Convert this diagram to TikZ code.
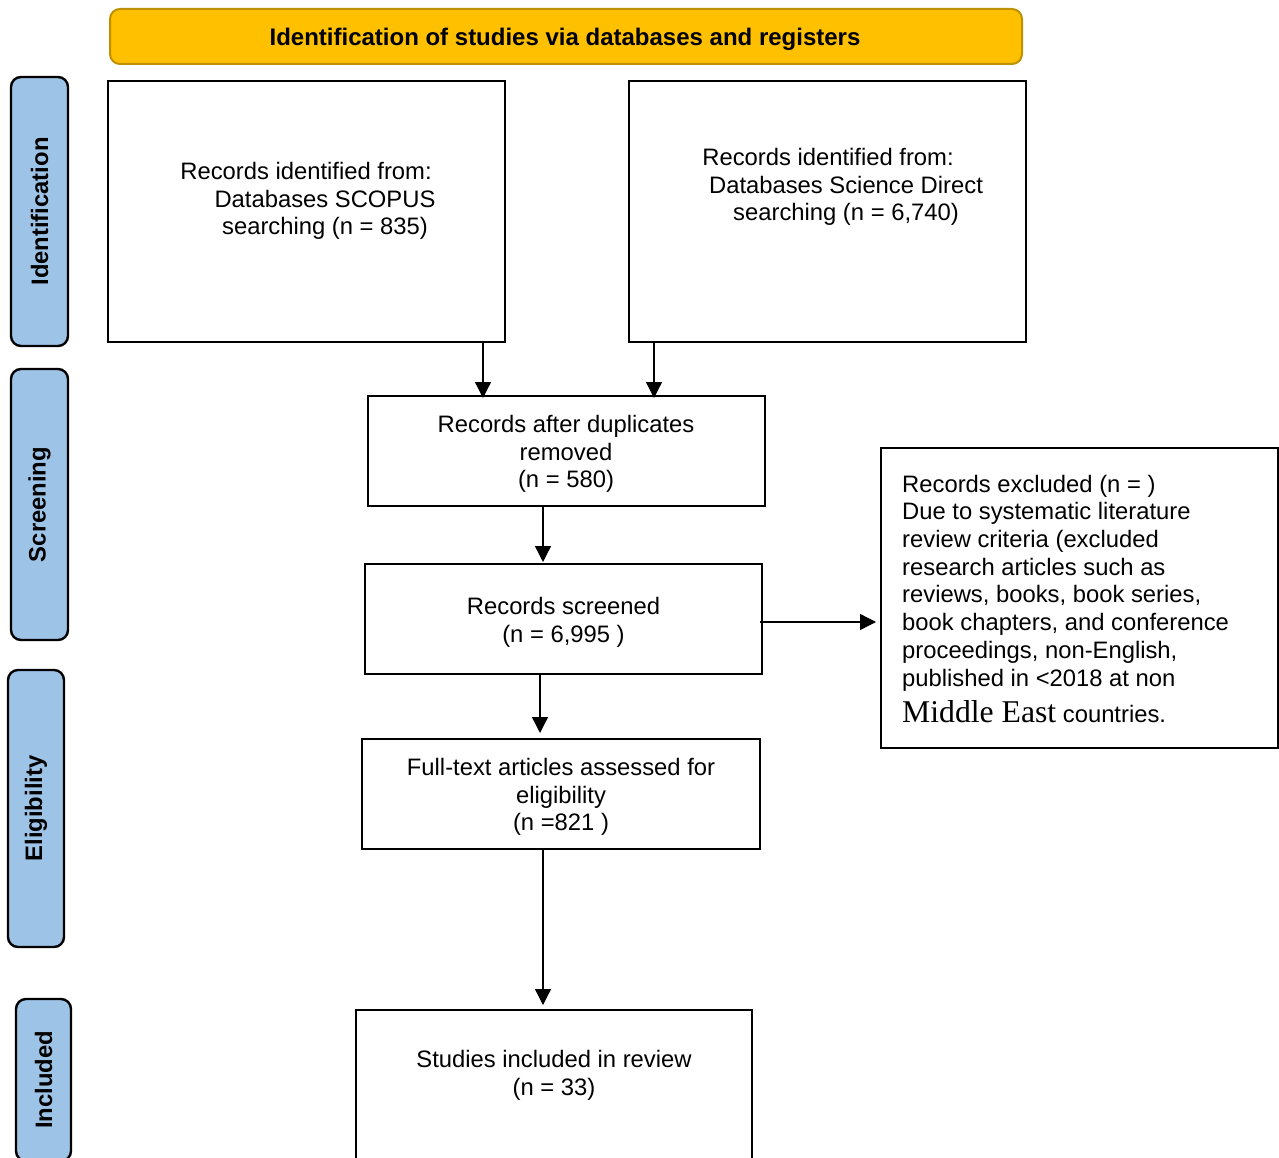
\documentclass[tikz,border=0pt]{standalone}
\usepackage{fontspec}
\setmainfont{Liberation Sans}
\newfontfamily\tms{Liberation Serif}
\usetikzlibrary{arrows.meta}
\definecolor{hdrfill}{HTML}{FFC000}
\definecolor{hdrline}{HTML}{BF9000}
\definecolor{sidefill}{HTML}{9DC3E6}
\tikzset{
  box/.style={draw=black, line width=2pt, fill=white, inner sep=0pt},
  hdr/.style={draw=hdrline, line width=2pt, fill=hdrfill, rounded corners=10pt, inner sep=0pt},
  side/.style={draw=black, line width=2.4pt, fill=sidefill, rounded corners=10pt, inner sep=0pt,
    rotate=90, font=\fontsize{23.8}{27}\selectfont\bfseries},
  txt/.style={inner sep=0pt, align=center, font=\fontsize{23.8}{27.7}\selectfont},
  hdrtxt/.style={inner sep=0pt, font=\fontsize{24}{27}\selectfont\bfseries},
  arr/.style={line width=1.3pt, -{Triangle[length=16pt,width=16pt]}, shorten >=-3pt}
}
\begin{document}
\begin{tikzpicture}[x=1pt,y=-1pt]
\useasboundingbox (0,0) rectangle (1279,1158);

% header
\node[hdr, minimum width=912, minimum height=55] (hdr) at (566,36.5) {};
\node[hdrtxt] (hdrt) at (565,39.5) {Identification of studies via databases and registers};

% side labels
\node[side, minimum width=269, minimum height=57] (sid) at (39.5,211.5) {Identification};
\node[side, minimum width=271, minimum height=57] (sscr) at (39.5,504.5) {Screening};
\node[side, minimum width=277, minimum height=56] (selig) at (36,808.5) {Eligibility};
\node[side, minimum width=162, minimum height=55] (sinc) at (43.5,1080) {Included};

% boxes
\node[box, minimum width=397, minimum height=261] (A) at (306.5,211.5) {};
\node[box, minimum width=397, minimum height=261] (B) at (827.5,211.5) {};
\node[box, minimum width=397, minimum height=110] (C) at (566.5,451) {};
\node[box, minimum width=397, minimum height=110] (D) at (563.5,619) {};
\node[box, minimum width=398, minimum height=110] (E) at (561,794) {};
\node[box, minimum width=396, minimum height=160] (F) at (554,1090) {};
\node[box, minimum width=397, minimum height=300] (G) at (1079.5,598) {};

% texts
\node[txt] (tA) at (325,201) {Records identified from:\hspace*{38pt}\\Databases SCOPUS\\searching (n = 835)};
\node[txt] (tB) at (846,187) {Records identified from:\hspace*{36pt}\\Databases Science Direct\\searching (n = 6,740)};
\node[txt] (tC) at (566,454) {Records after duplicates\\removed\\(n = 580)};
\node[txt] (tD) at (563.5,622) {Records screened\\(n = 6,995 )};
\node[txt] (tE) at (561,797) {Full-text articles assessed for\\eligibility\\(n =821 )};
\node[txt] (tF) at (554,1075.5) {Studies included in review\\(n = 33)};
\node[txt, align=left, anchor=north west] (tG) at (902,474.7) {Records excluded (n = )\\
Due to systematic literature\\
review criteria (excluded\\
research articles such as\\
reviews, books, book series,\\
book chapters, and conference\\
proceedings, non-English,\\
published in <2018 at non\\[9pt]
{\tms\fontsize{31.7}{34}\selectfont Middle East} countries.};

% connectors
\coordinate (xa) at (483,0);
\coordinate (xb) at (654,0);
\coordinate (xc) at (543,0);
\coordinate (xd) at (540,0);
\coordinate (xe) at (543,0);
\coordinate (yg) at (0,622);
\draw[arr] (xa |- A.south) -- (xa |- C.north);
\draw[arr] (xb |- B.south) -- (xb |- C.north);
\draw[arr, shorten >=1pt] (xc |- C.south) -- (xc |- D.north);
\draw[arr, shorten >=5pt] (xd |- D.south) -- (xd |- E.north);
\draw[arr, shorten >=4pt] (xe |- E.south) -- (xe |- F.north);
\draw[arr, shorten >=4pt, shorten <=-3pt] (yg -| D.east) -- (yg -| G.west);
\end{tikzpicture}
\end{document}
